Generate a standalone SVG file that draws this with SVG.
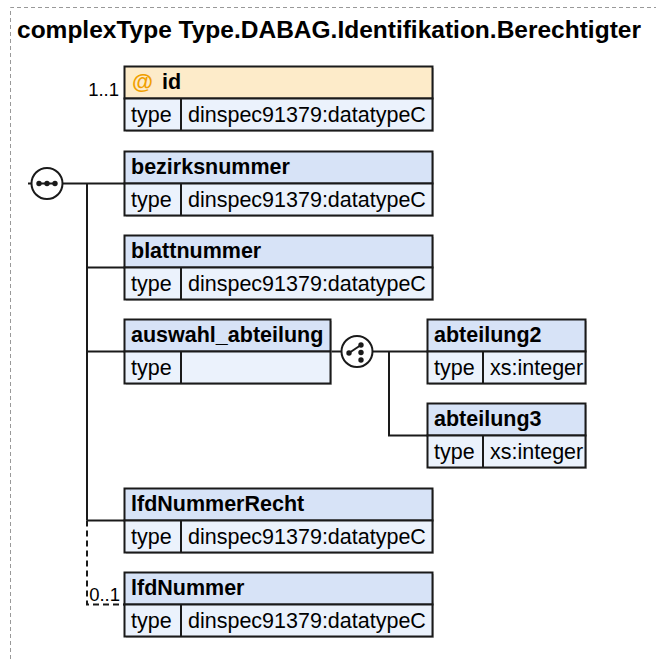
<svg xmlns="http://www.w3.org/2000/svg" width="656" height="659" viewBox="0 0 656 659">
<style>
.t{font-family:"Liberation Sans",Arial,sans-serif;font-size:21.5px;fill:#000}
.b{font-weight:bold}
.title{font-family:"Liberation Sans",Arial,sans-serif;font-size:24.5px;font-weight:bold;fill:#000}
.occ{font-family:"Liberation Sans",Arial,sans-serif;font-size:18.5px;fill:#000}
.hd{fill:#d7e3f7;stroke:#1a1a1a;stroke-width:2}
.ah{fill:#fdebc9;stroke:#1a1a1a;stroke-width:2}
.rw{fill:#ebf2fc;stroke:#1a1a1a;stroke-width:2}
.sh{fill:#c8c8c8}
.ln{stroke:#1a1a1a;stroke-width:2;fill:none}
.dl{stroke:#1a1a1a;stroke-width:2;fill:none;stroke-dasharray:6,4}
.cmp{fill:#fff;stroke:#1a1a1a;stroke-width:2}
.dot{fill:#1a1a1a}
</style>
<path d="M10.5,659 V7.5 H656" fill="none" stroke="#999" stroke-width="1" stroke-dasharray="4,3"/>
<text class="title" x="17" y="38">complexType Type.DABAG.Identifikation.Berechtigter</text>

<g id="connectors">
<line class="ln" x1="28" y1="183.5" x2="32" y2="183.5"/>
<line class="ln" x1="62" y1="183.5" x2="124.5" y2="183.5"/>
<line class="ln" x1="87" y1="183.5" x2="87" y2="520.5"/>
<line class="ln" x1="87" y1="267.5" x2="124.5" y2="267.5"/>
<line class="ln" x1="87" y1="351.5" x2="124.5" y2="351.5"/>
<line class="ln" x1="87" y1="520.5" x2="124.5" y2="520.5"/>
<path class="dl" d="M87,520.5 V604.5 H124.5"/>
<line class="ln" x1="330.5" y1="351.5" x2="342" y2="351.5"/>
<line class="ln" x1="372" y1="351.5" x2="427.5" y2="351.5"/>
<path class="ln" d="M389,351.5 V435.5 H427.5"/>
</g>

<g id="sequence">
<circle class="cmp" cx="47" cy="183.5" r="15.5"/>
<line class="ln" x1="38" y1="183.5" x2="56" y2="183.5"/>
<circle class="dot" cx="39" cy="183.5" r="2.7"/>
<circle class="dot" cx="47" cy="183.5" r="2.7"/>
<circle class="dot" cx="55" cy="183.5" r="2.7"/>
</g>

<g id="choice">
<circle class="cmp" cx="357" cy="351.5" r="15.5"/>
<line class="ln" x1="349" y1="353" x2="361" y2="345"/>
<circle class="dot" cx="349" cy="353" r="2.7"/>
<circle class="dot" cx="361" cy="345" r="2.7"/>
<circle class="dot" cx="361" cy="352.5" r="2.7"/>
<circle class="dot" cx="361" cy="360" r="2.7"/>
</g>

<g id="attr-id">
<rect class="sh" x="126" y="68" width="308" height="64"/>
<rect class="ah" x="124.5" y="66.5" width="308" height="32"/>
<rect class="rw" x="124.5" y="98.5" width="308" height="32"/>
<line class="ln" x1="181" y1="98.5" x2="181" y2="130.5"/>
<text class="t b" x="132" y="89" style="fill:#f0a000">@</text>
<text class="t b" x="162" y="89">id</text>
<text class="t" x="131" y="122">type</text>
<text class="t" x="188" y="122">dinspec91379:datatypeC</text>
<text class="occ" x="119" y="96" text-anchor="end">1..1</text>
</g>

<g id="el-bezirksnummer">
<rect class="sh" x="126" y="153" width="308" height="64"/>
<rect class="hd" x="124.5" y="151.5" width="308" height="32"/>
<rect class="rw" x="124.5" y="183.5" width="308" height="32"/>
<line class="ln" x1="181" y1="183.5" x2="181" y2="215.5"/>
<text class="t b" x="131" y="174">bezirksnummer</text>
<text class="t" x="131" y="207">type</text>
<text class="t" x="188" y="207">dinspec91379:datatypeC</text>
</g>

<g id="el-blattnummer">
<rect class="sh" x="126" y="237" width="308" height="64"/>
<rect class="hd" x="124.5" y="235.5" width="308" height="32"/>
<rect class="rw" x="124.5" y="267.5" width="308" height="32"/>
<line class="ln" x1="181" y1="267.5" x2="181" y2="299.5"/>
<text class="t b" x="131" y="258">blattnummer</text>
<text class="t" x="131" y="291">type</text>
<text class="t" x="188" y="291">dinspec91379:datatypeC</text>
</g>

<g id="el-auswahl_abteilung">
<rect class="sh" x="126" y="321" width="206" height="64"/>
<rect class="hd" x="124.5" y="319.5" width="206" height="32"/>
<rect class="rw" x="124.5" y="351.5" width="206" height="32"/>
<line class="ln" x1="181" y1="351.5" x2="181" y2="383.5"/>
<text class="t b" x="131" y="342">auswahl_abteilung</text>
<text class="t" x="131" y="375">type</text>
</g>

<g id="el-abteilung2">
<rect class="sh" x="429" y="321" width="158" height="64"/>
<rect class="hd" x="427.5" y="319.5" width="158" height="32"/>
<rect class="rw" x="427.5" y="351.5" width="158" height="32"/>
<line class="ln" x1="483" y1="351.5" x2="483" y2="383.5"/>
<text class="t b" x="434" y="342">abteilung2</text>
<text class="t" x="434" y="375">type</text>
<text class="t" x="490" y="375">xs:integer</text>
</g>

<g id="el-abteilung3">
<rect class="sh" x="429" y="405" width="158" height="64"/>
<rect class="hd" x="427.5" y="403.5" width="158" height="32"/>
<rect class="rw" x="427.5" y="435.5" width="158" height="32"/>
<line class="ln" x1="483" y1="435.5" x2="483" y2="467.5"/>
<text class="t b" x="434" y="426">abteilung3</text>
<text class="t" x="434" y="459">type</text>
<text class="t" x="490" y="459">xs:integer</text>
</g>

<g id="el-lfdNummerRecht">
<rect class="sh" x="126" y="490" width="308" height="64"/>
<rect class="hd" x="124.5" y="488.5" width="308" height="32"/>
<rect class="rw" x="124.5" y="520.5" width="308" height="32"/>
<line class="ln" x1="181" y1="520.5" x2="181" y2="552.5"/>
<text class="t b" x="131" y="511">lfdNummerRecht</text>
<text class="t" x="131" y="544">type</text>
<text class="t" x="188" y="544">dinspec91379:datatypeC</text>
</g>

<g id="el-lfdNummer">
<rect class="sh" x="126" y="574" width="308" height="64"/>
<rect class="hd" x="124.5" y="572.5" width="308" height="32"/>
<rect class="rw" x="124.5" y="604.5" width="308" height="32"/>
<line class="ln" x1="181" y1="604.5" x2="181" y2="636.5"/>
<text class="t b" x="131" y="595">lfdNummer</text>
<text class="t" x="131" y="628">type</text>
<text class="t" x="188" y="628">dinspec91379:datatypeC</text>
<text class="occ" x="120" y="601" text-anchor="end">0..1</text>
</g>
</svg>
